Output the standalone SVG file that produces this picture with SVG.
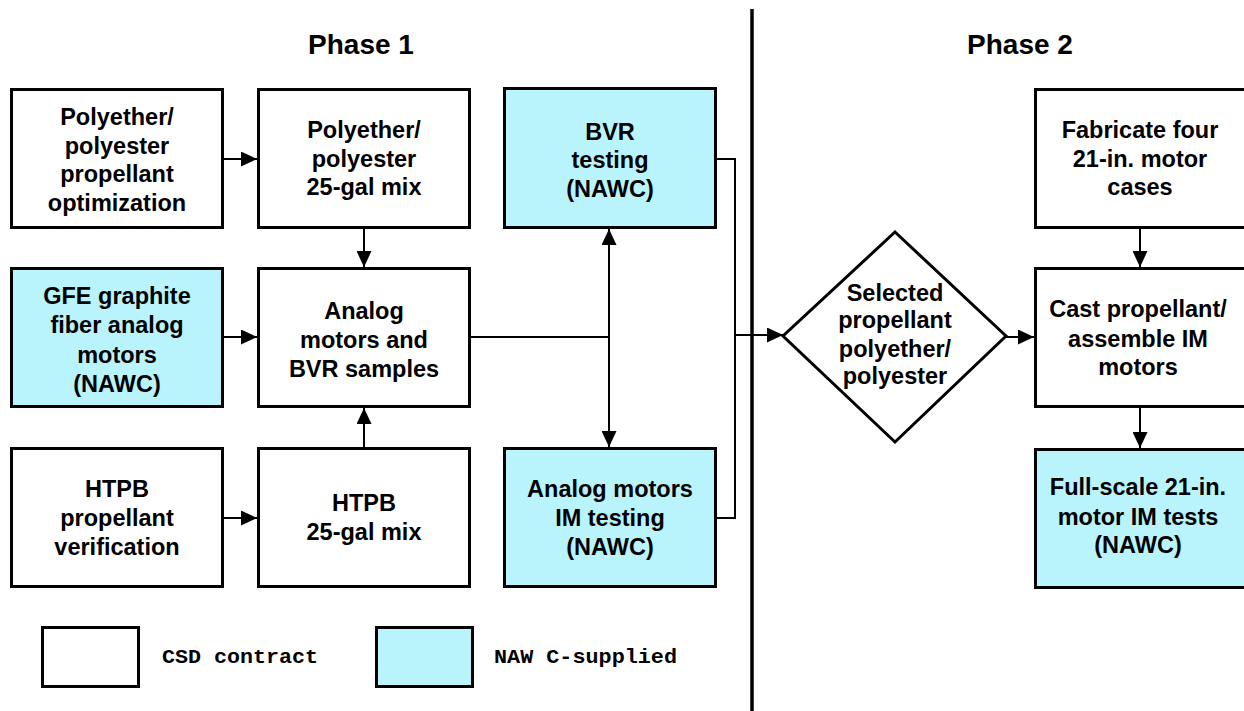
<svg xmlns="http://www.w3.org/2000/svg" width="1244" height="711" viewBox="0 0 1244 711">
<defs>
<style>
.box{fill:#ffffff;stroke:#000;stroke-width:3}
.nawc{fill:#b9f4fd;stroke:#000;stroke-width:3}
.t{font-family:"Liberation Sans",Arial,sans-serif;font-weight:bold;font-size:23.5px;text-anchor:middle;fill:#000}
.ph{font-family:"Liberation Sans",Arial,sans-serif;font-weight:bold;font-size:28px;text-anchor:middle;fill:#000}
.lg{font-family:"Liberation Mono","Courier New",monospace;font-weight:bold;font-size:21px;fill:#000}
.c{fill:none;stroke:#000;stroke-width:2}
.ca{fill:none;stroke:#000;stroke-width:2;marker-end:url(#ah)}
</style>
<marker id="ah" viewBox="0 0 16 15" refX="16" refY="7.5" markerWidth="16" markerHeight="15" markerUnits="userSpaceOnUse" orient="auto"><path d="M0,0 L16,7.5 L0,15 z" fill="#000"/></marker>
</defs>
<rect width="1244" height="711" fill="#fff"/>
<text class="ph" x="361" y="54">Phase 1</text>
<text class="ph" x="1020" y="54">Phase 2</text>
<line x1="752" y1="9" x2="752" y2="711" stroke="#000" stroke-width="3.5"/>
<g id="connectors">
<path class="ca" d="M224,159 H257"/>
<path class="ca" d="M364,229 V267"/>
<path class="ca" d="M224,337 H257"/>
<path class="ca" d="M364,447 V408"/>
<path class="ca" d="M224,518 H257"/>
<path class="c" d="M471,337 H609"/>
<path class="ca" d="M609,337 V229"/>
<path class="ca" d="M609,337 V447"/>
<path class="c" d="M717,159 H735 V518 H717"/>
<path class="ca" d="M735,335 H783"/>
<path class="ca" d="M1006,337 H1034"/>
<path class="ca" d="M1140,229 V267"/>
<path class="ca" d="M1140,408 V448"/>
</g>
<g id="n_poly_opt"><rect class="box" x="11.5" y="89.5" width="211" height="138"/>
<text class="t" x="117" y="125">Polyether/</text><text class="t" x="117" y="154">polyester</text><text class="t" x="117" y="182">propellant</text><text class="t" x="117" y="211">optimization</text></g>
<g id="n_poly_mix"><rect class="box" x="258.5" y="89.5" width="211" height="138"/>
<text class="t" x="364" y="138">Polyether/</text><text class="t" x="364" y="167">polyester</text><text class="t" x="364" y="195">25-gal mix</text></g>
<g id="n_bvr"><rect class="nawc" x="504.5" y="88.5" width="211" height="139"/>
<text class="t" x="610" y="140">BVR</text><text class="t" x="610" y="168">testing</text><text class="t" x="610" y="197">(NAWC)</text></g>
<g id="n_gfe"><rect class="nawc" x="11.5" y="268.5" width="211" height="138"/>
<text class="t" x="117" y="304">GFE graphite</text><text class="t" x="117" y="333">fiber analog</text><text class="t" x="117" y="363">motors</text><text class="t" x="117" y="392">(NAWC)</text></g>
<g id="n_analog"><rect class="box" x="258.5" y="268.5" width="211" height="138"/>
<text class="t" x="364" y="319">Analog</text><text class="t" x="364" y="348">motors and</text><text class="t" x="364" y="377">BVR samples</text></g>
<g id="n_htpb_ver"><rect class="box" x="11.5" y="448.5" width="211" height="138"/>
<text class="t" x="117" y="497">HTPB</text><text class="t" x="117" y="526">propellant</text><text class="t" x="117" y="555">verification</text></g>
<g id="n_htpb_mix"><rect class="box" x="258.5" y="448.5" width="211" height="138"/>
<text class="t" x="364" y="511">HTPB</text><text class="t" x="364" y="540">25-gal mix</text></g>
<g id="n_analog_im"><rect class="nawc" x="504.5" y="448.5" width="211" height="138"/>
<text class="t" x="610" y="497">Analog motors</text><text class="t" x="610" y="526">IM testing</text><text class="t" x="610" y="555">(NAWC)</text></g>
<g id="n_selected"><polygon class="box" points="895,232 1006,336 895,442 783,336"/>
<text class="t" x="895" y="301">Selected</text><text class="t" x="895" y="328">propellant</text><text class="t" x="895" y="357">polyether/</text><text class="t" x="895" y="384">polyester</text></g>
<g id="n_fabricate"><rect class="box" x="1035.5" y="89.5" width="211" height="138"/>
<text class="t" x="1140" y="138">Fabricate four</text><text class="t" x="1140" y="167">21-in. motor</text><text class="t" x="1140" y="195">cases</text></g>
<g id="n_cast"><rect class="box" x="1035.5" y="268.5" width="211" height="138"/>
<text class="t" x="1138" y="317">Cast propellant/</text><text class="t" x="1138" y="347">assemble IM</text><text class="t" x="1138" y="375">motors</text></g>
<g id="n_fullscale"><rect class="nawc" x="1035.5" y="449.5" width="211" height="138"/>
<text class="t" x="1138" y="495">Full-scale 21-in.</text><text class="t" x="1138" y="525">motor IM tests</text><text class="t" x="1138" y="553">(NAWC)</text></g>
<g id="legend">
<rect class="box" x="42.5" y="627.5" width="96" height="59"/>
<text class="lg" x="162" y="663" textLength="156" lengthAdjust="spacingAndGlyphs">CSD contract</text>
<rect class="nawc" x="376.5" y="627.5" width="96" height="59"/>
<text class="lg" x="494" y="663" textLength="183" lengthAdjust="spacingAndGlyphs">NAW C-supplied</text>
</g>
</svg>
